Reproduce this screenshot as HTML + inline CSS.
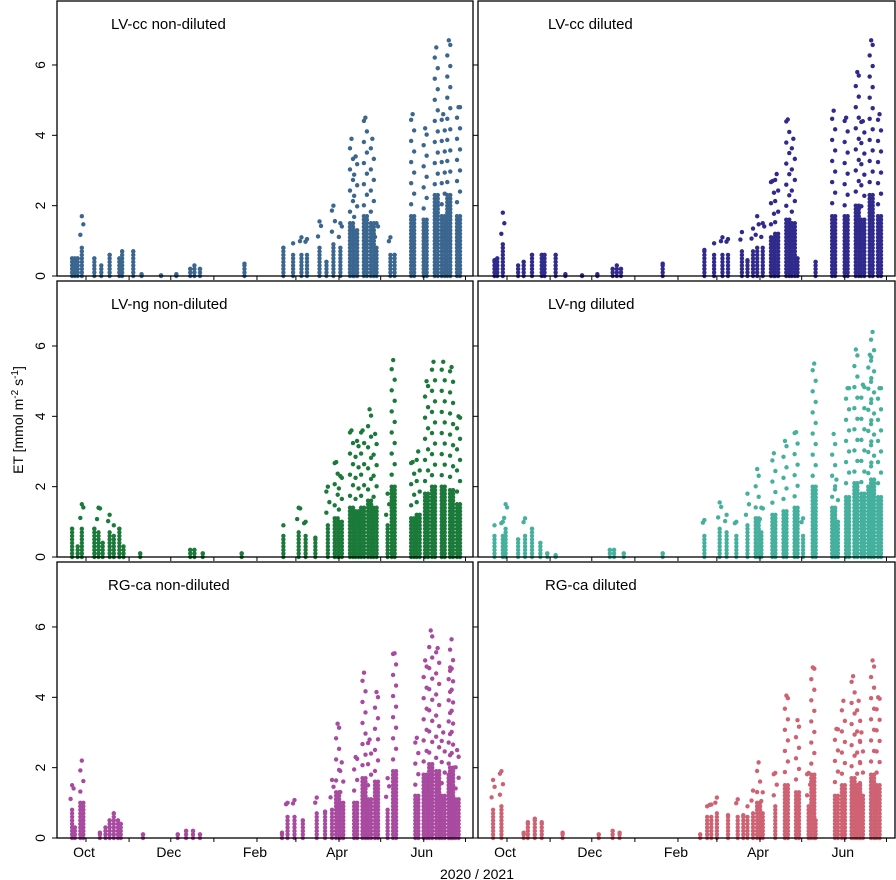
<!DOCTYPE html>
<html><head><meta charset="utf-8"><style>
body{margin:0;background:#fff;}
svg{display:block;font-family:"Liberation Sans",Arial,sans-serif;}
</style></head><body>
<svg id="chart" width="896" height="880" viewBox="0 0 896 880" xmlns="http://www.w3.org/2000/svg"></svg>
<script>
// ---- data (days since 1 Oct 2020, max ET per measurement day) ----
const monthLabels = ["Oct","Dec","Feb","Apr","Jun"];
const monthLabelDays = [0,61,123,182,243];
const tickDays = [0,31,61,92,123,151,182,212,243,273];
const yTicks = [0,2,4,6];
const panelTitles = ["LV-cc non-diluted","LV-cc diluted","LV-ng non-diluted","LV-ng diluted","RG-ca non-diluted","RG-ca diluted"];

const p1Days = [-10,-8,-6,-3,6,11,17,24,26,34,40,54,65,75,78,82,114,142,149,155,159,168,173,178,183,191,194,201,206,209,219,222,235,244,252,257,261,268];
const p1Max  = [0.5,0.5,0.5,1.7,0.5,0.3,0.6,0.5,0.7,0.7,0.05,0.02,0.05,0.2,0.3,0.2,0.35,0.8,0.93,1.1,1.05,1.55,0.4,2.0,1.5,3.9,3.4,4.5,3.9,1.5,1.1,0.6,4.6,4.2,6.5,4.6,6.7,4.8];

const p2Days = [-9,-7,-3,8,12,18,25,27,35,42,54,65,76,79,82,112,142,149,155,159,169,173,177,180,184,191,194,202,206,209,222,235,244,252,256,262,268];
const p2Max  = [0.45,0.5,1.8,0.3,0.4,0.6,0.6,0.6,0.6,0.05,0.02,0.05,0.2,0.3,0.2,0.35,0.74,0.93,1.1,1.05,1.25,0.45,1.35,1.7,1.5,2.7,2.9,4.45,3.9,0.5,0.4,4.7,4.5,5.8,4.4,6.7,4.6];

const p3Days = [-10,-6,-3,6,9,12,17,20,24,27,39,75,78,84,112,142,153,158,165,174,180,183,191,195,199,204,208,217,221,235,239,245,250,257,263,268];
const p3Max  = [0.8,0.3,1.5,0.8,1.4,0.4,1.2,0.9,0.8,0.3,0.1,0.2,0.2,0.1,0.1,0.9,1.4,1.0,0.55,2.0,2.7,2.3,3.6,3.3,3.6,4.2,3.5,1.8,5.6,2.7,3.0,5.0,5.55,5.55,5.4,4.0];

const p4Days = [-9,-3,-1,8,13,18,24,29,35,74,77,84,112,142,153,158,165,173,180,183,192,200,208,213,221,235,237,245,251,256,261,263,268];
const p4Max  = [0.9,1.0,1.5,0.5,1.1,0.8,0.4,0.1,0.05,0.2,0.2,0.1,0.1,1.05,1.55,1.2,1.0,1.8,2.5,1.4,2.95,3.3,3.55,1.1,5.5,3.5,2.2,4.8,5.9,4.9,5.75,6.4,4.8];

const p5Days = [-10,-8,-3,10,14,17,20,23,25,41,66,72,77,82,141,145,150,156,166,172,177,181,184,194,200,204,209,217,222,238,244,248,253,257,262,263,267];
const p5Max  = [1.5,0.3,2.2,0.15,0.3,0.5,0.7,0.5,0.4,0.1,0.1,0.2,0.2,0.1,0.15,1.0,1.08,0.5,1.15,0.75,1.65,3.25,2.15,2.3,4.7,2.8,4.15,1.7,5.25,2.85,5.05,5.9,5.4,3.0,4.85,5.65,2.5];

const p6Days = [-10,-4,12,15,20,25,40,66,76,81,139,144,147,151,159,166,170,173,177,181,184,193,201,209,217,220,222,237,242,249,253,255,263,267];
const p6Max  = [1.65,1.9,0.15,0.45,0.55,0.45,0.15,0.1,0.2,0.15,0.1,0.9,0.95,1.15,0.65,1.1,0.65,0.9,1.35,2.15,1.3,1.85,4.05,3.35,1.85,4.85,0.5,3.1,3.9,4.6,3.9,3.0,5.05,4.0];

const NS="http://www.w3.org/2000/svg";
const svg=document.getElementById('chart');
const colors=["#3b6690","#302a8c","#1b7a3a","#45b09d","#a84aa0","#cf6272"];
const allDays=[p1Days,p2Days,p3Days,p4Days,p5Days,p6Days];
const allMax=[p1Max,p2Max,p3Max,p4Max,p5Max,p6Max];
const frameX=[[57,473],[478,895]];
const frameY=[[1,276],[281,557],[562,838]];
const pxPerDay=1.39, pxPerUnit=35.17;
function xScale(col,day){return (col===0?86:507)+pxPerDay*day;}
function yScale(row,v){return frameY[row][1]-pxPerUnit*v;}
function mk(tag,attrs){const e=document.createElementNS(NS,tag);for(const k in attrs)e.setAttribute(k,attrs[k]);svg.appendChild(e);return e;}
function dot(g,x,y){
  const c=document.createElementNS(NS,'circle');
  c.setAttribute('cx',x);c.setAttribute('cy',y);c.setAttribute('r',2.2);
  
  
  g.appendChild(c);
}

for(let p=0;p<6;p++){
  const row=Math.floor(p/2), col=p%2;
  const [x0,x1]=frameX[col], [y0,y1]=frameY[row];
  const g=document.createElementNS(NS,'g');
  
  
  g.setAttribute('fill',colors[p]);
  svg.appendChild(g);
  const days=allDays[p], mx=allMax[p];
  for(let i=0;i<days.length;i++){
    const m=mx[i];
    const dense = m<=0.8 ? m : 0.6+0.3*(m-0.8);
    const cx=xScale(col,days[i]);
    const offs = m>2 ? [-1.5,1.5] : [0];
    for(const o of offs){
      for(let v=0; v<=dense; v+=0.1){ dot(g,cx+o,yScale(row,v)); }
    }
    let k=0;
    for(let v=dense+0.3; v<m; v+=0.3){
      dot(g,cx+((k++%2)?1.5:-1.5),yScale(row,v));
    }
    dot(g,cx,yScale(row,m));
  }
  const fr=mk('rect',{x:x0,y:y0,width:x1-x0,height:y1-y0,fill:'none',stroke:'#000','stroke-width':1.3});
  
  
  for(const t of yTicks){
    const y=yScale(row,t);
    const l=mk('line',{x1:x0-5,y1:y,x2:x0,y2:y,stroke:'#000','stroke-width':1});
    
    
    if(col===0){
      const tx=mk('text',{x:0,y:0,transform:`translate(45,${y}) rotate(-90)`,'text-anchor':'middle','font-size':14,fill:'#000'});
      tx.textContent=t;
      
      
    }
  }
  for(const d of tickDays){
    const x=xScale(col,d);
    if(x<x0||x>x1) continue;
    const l=mk('line',{x1:x,y1:y1,x2:x,y2:y1+4,stroke:'#000','stroke-width':1});
    
    
  }
  const tt=mk('text',{x:col===0?(row===2?108:111):(row===2?545:548),y:y0+28,'font-size':15,fill:'#000'});
  tt.textContent=panelTitles[p];
  
  
  if(row===2){
    for(let i=0;i<monthLabels.length;i++){
      const lx=mk('text',{x:xScale(col,monthLabelDays[i])-2,y:857,'text-anchor':'middle','font-size':14,fill:'#000'});
      lx.textContent=monthLabels[i];
      
      
    }
  }
}
const xt=mk('text',{x:477,y:879,'text-anchor':'middle','font-size':14,fill:'#000'});
xt.textContent='2020 / 2021';


const yt=mk('text',{x:0,y:0,transform:'translate(23,420) rotate(-90)','text-anchor':'middle','font-size':14,fill:'#000'});
yt.innerHTML='ET [mmol m<tspan dy="-5" font-size="10">-2</tspan><tspan dy="5"> s</tspan><tspan dy="-5" font-size="10">-1</tspan><tspan dy="5">]</tspan>';


</script>
</body></html>
